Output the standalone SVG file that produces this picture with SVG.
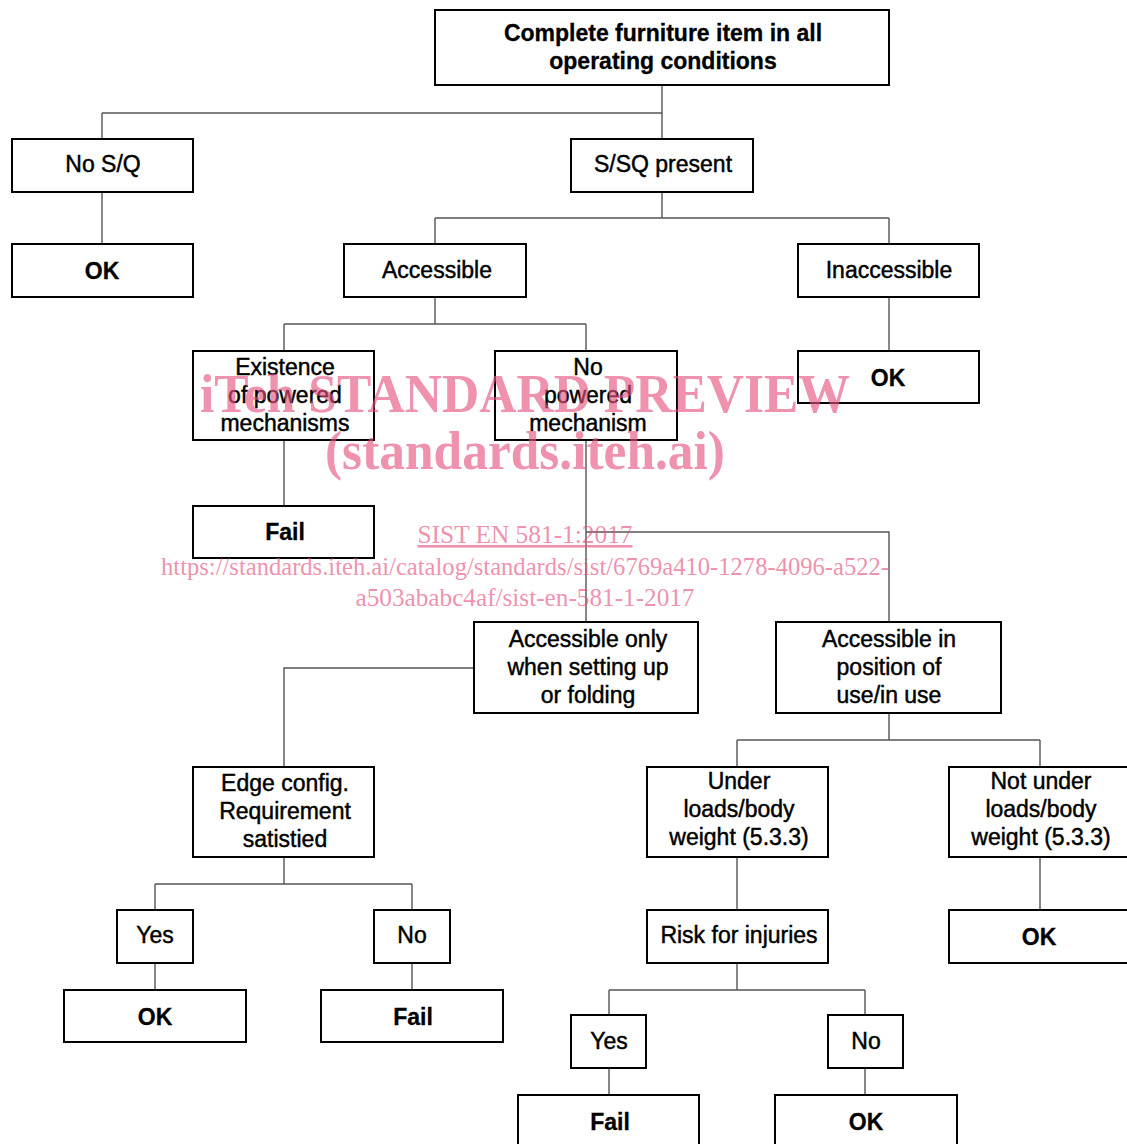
<svg xmlns="http://www.w3.org/2000/svg" width="1127" height="1144" viewBox="0 0 1127 1144">
<style>
.box{fill:#fff;stroke:#000;stroke-width:2}
.t{font-family:"Liberation Sans",Arial,sans-serif;font-size:23px;fill:#000;text-anchor:middle;stroke:#000;stroke-width:0.45}
.b{font-weight:bold;stroke-width:0.3}
.c{fill:none;stroke:#555;stroke-width:1.4}
.wm{font-family:"Liberation Serif","Times New Roman",serif;fill:#e5517e;opacity:0.62;text-anchor:middle}
</style>
<rect width="1127" height="1144" fill="#fff"/>
<g id="connectors">
<path class="c" d="M662 85V113M102 113H662M102 113V139M662 113V139"/>
<path class="c" d="M102 192V244"/>
<path class="c" d="M662 192V218M435 218H889M435 218V244M889 218V244"/>
<path class="c" d="M889 297V351"/>
<path class="c" d="M435 297V324M284 324H586M284 324V351M586 324V351"/>
<path class="c" d="M284 440V506"/>
<path class="c" d="M586 440V622M586 532H889V622"/>
<path class="c" d="M474 668H284V767"/>
<path class="c" d="M284 857V884M155 884H412M155 884V910M412 884V910"/>
<path class="c" d="M155 963V990M412 963V990"/>
<path class="c" d="M889 713V740M737 740H1040M737 740V767M1040 740V767"/>
<path class="c" d="M1040 857V910M737 857V910"/>
<path class="c" d="M737 963V990M609 990H865M609 990V1015M865 990V1015"/>
<path class="c" d="M609 1068V1095M865 1068V1095"/>
</g>
<g id="n-root"><rect class="box" x="435" y="10" width="454" height="75"/><text class="t b" x="663" y="41">Complete furniture item in all</text><text class="t b" x="663" y="69">operating conditions</text></g>
<g id="n-nosq"><rect class="box" x="12" y="139" width="181" height="53"/><text class="t" x="103" y="172">No S/Q</text></g>
<g id="n-sqpresent"><rect class="box" x="571" y="139" width="182" height="53"/><text class="t" x="663" y="172">S/SQ present</text></g>
<g id="n-ok1"><rect class="box" x="12" y="244" width="181" height="53"/><text class="t b" x="102" y="279">OK</text></g>
<g id="n-accessible"><rect class="box" x="344" y="244" width="182" height="53"/><text class="t" x="437" y="278">Accessible</text></g>
<g id="n-inaccessible"><rect class="box" x="798" y="244" width="181" height="53"/><text class="t" x="889" y="278">Inaccessible</text></g>
<g id="n-ok2"><rect class="box" x="798" y="351" width="181" height="52"/><text class="t b" x="888" y="386">OK</text></g>
<g id="n-existence"><rect class="box" x="193" y="351" width="181" height="89"/><text class="t" x="285" y="375">Existence</text><text class="t" x="285" y="403">of powered</text><text class="t" x="285" y="431">mechanisms</text></g>
<g id="n-nopowered"><rect class="box" x="495" y="351" width="182" height="89"/><text class="t" x="588" y="375">No</text><text class="t" x="588" y="403">powered</text><text class="t" x="588" y="431">mechanism</text></g>
<g id="n-fail1"><rect class="box" x="193" y="506" width="181" height="52"/><text class="t b" x="285" y="540">Fail</text></g>
<g id="n-accessonly"><rect class="box" x="474" y="622" width="224" height="91"/><text class="t" x="588" y="647">Accessible only</text><text class="t" x="588" y="675">when setting up</text><text class="t" x="588" y="703">or folding</text></g>
<g id="n-accessin"><rect class="box" x="776" y="622" width="225" height="91"/><text class="t" x="889" y="647">Accessible in</text><text class="t" x="889" y="675">position of</text><text class="t" x="889" y="703">use/in use</text></g>
<g id="n-edge"><rect class="box" x="193" y="767" width="181" height="90"/><text class="t" x="285" y="791">Edge config.</text><text class="t" x="285" y="819">Requirement</text><text class="t" x="285" y="847">satistied</text></g>
<g id="n-yes1"><rect class="box" x="117" y="910" width="76" height="53"/><text class="t" x="155" y="943">Yes</text></g>
<g id="n-no1"><rect class="box" x="374" y="910" width="76" height="53"/><text class="t" x="412" y="943">No</text></g>
<g id="n-ok3"><rect class="box" x="64" y="990" width="182" height="52"/><text class="t b" x="155" y="1025">OK</text></g>
<g id="n-fail2"><rect class="box" x="321" y="990" width="182" height="52"/><text class="t b" x="413" y="1025">Fail</text></g>
<g id="n-under"><rect class="box" x="647" y="767" width="181" height="90"/><text class="t" x="739" y="789">Under</text><text class="t" x="739" y="817">loads/body</text><text class="t" x="739" y="845">weight (5.3.3)</text></g>
<g id="n-notunder"><rect class="box" x="949" y="767" width="181" height="90"/><text class="t" x="1041" y="789">Not under</text><text class="t" x="1041" y="817">loads/body</text><text class="t" x="1041" y="845">weight (5.3.3)</text></g>
<g id="n-risk"><rect class="box" x="647" y="910" width="181" height="53"/><text class="t" x="739" y="943">Risk for injuries</text></g>
<g id="n-ok4"><rect class="box" x="949" y="910" width="181" height="53"/><text class="t b" x="1039" y="945">OK</text></g>
<g id="n-yes2"><rect class="box" x="571" y="1015" width="75" height="53"/><text class="t" x="609" y="1049">Yes</text></g>
<g id="n-no2"><rect class="box" x="828" y="1015" width="75" height="53"/><text class="t" x="866" y="1049">No</text></g>
<g id="n-fail3"><rect class="box" x="518" y="1095" width="181" height="60"/><text class="t b" x="610" y="1130">Fail</text></g>
<g id="n-ok5"><rect class="box" x="775" y="1095" width="182" height="60"/><text class="t b" x="866" y="1130">OK</text></g>
<g id="watermark">
<text class="wm" x="525" y="412" font-size="54" font-weight="bold" textLength="650" lengthAdjust="spacingAndGlyphs">iTeh STANDARD PREVIEW</text>
<text class="wm" x="525" y="469" font-size="54" font-weight="bold" textLength="400" lengthAdjust="spacingAndGlyphs">(standards.iteh.ai)</text>
<text class="wm" x="525" y="543" font-size="26" text-decoration="underline" textLength="215" lengthAdjust="spacingAndGlyphs">SIST EN 581-1:2017</text>
<text class="wm" x="525" y="575" font-size="26" textLength="728" lengthAdjust="spacingAndGlyphs">https://standards.iteh.ai/catalog/standards/sist/6769a410-1278-4096-a522-</text>
<text class="wm" x="525" y="606" font-size="26" textLength="339" lengthAdjust="spacingAndGlyphs">a503ababc4af/sist-en-581-1-2017</text>
</g>
</svg>
